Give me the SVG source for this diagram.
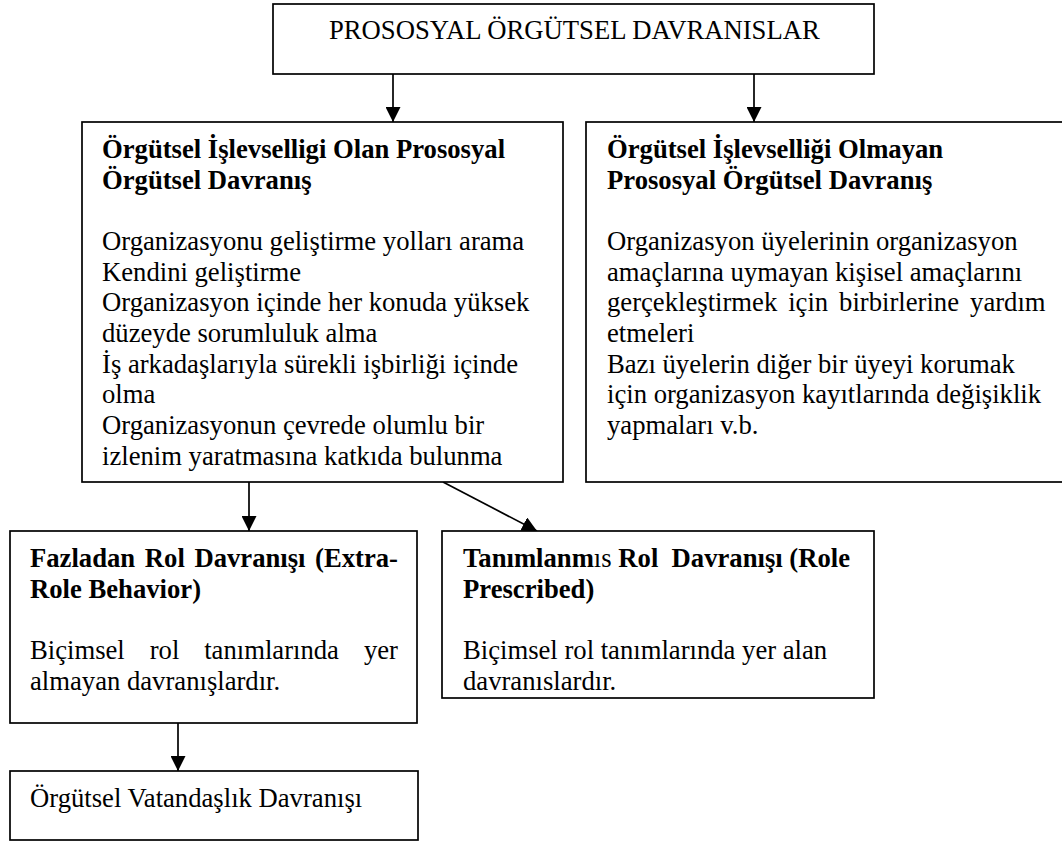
<svg xmlns="http://www.w3.org/2000/svg" width="1062" height="843" viewBox="0 0 1062 843">
<style>
  .box { fill: #ffffff; stroke: #000000; stroke-width: 1.7; }
  .t { font-family: "Liberation Serif", "Times New Roman", serif; font-size: 26.67px; fill: #000000; }
  .b { font-weight: bold; }
  .n { font-weight: normal; }
  .conn { stroke: #000000; stroke-width: 1.7; fill: none; marker-end: url(#ah); }
</style>
<defs>
  <marker id="ah" markerUnits="userSpaceOnUse" markerWidth="15" markerHeight="15" viewBox="0 0 15 15" refX="15" refY="7.5" orient="auto">
    <path d="M0,0 L15,7.5 L0,15 z" fill="#000000"/>
  </marker>
</defs>
<rect x="0" y="0" width="1062" height="843" fill="#ffffff"/>

<g id="connectors">
  <path class="conn" d="M393,74 L393,122"/>
  <path class="conn" d="M754,74 L754,122"/>
  <path class="conn" d="M249,482 L249,531"/>
  <path class="conn" d="M443,482 L537,531"/>
  <path class="conn" d="M178,723 L178,771"/>
</g>

<g id="node-root">
  <rect class="box" x="273" y="4" width="601" height="70"/>
  <text class="t" x="329" y="39">PROSOSYAL ÖRGÜTSEL DAVRANISLAR</text>
</g>

<g id="node-functional">
  <rect class="box" x="82" y="122" width="481" height="360"/>
  <text class="t b" x="102" y="158">Örgütsel İşlevselligi Olan Prososyal</text>
  <text class="t b" x="102" y="188.7">Örgütsel Davranış</text>
  <text class="t" x="102" y="250">Organizasyonu geliştirme yolları arama</text>
  <text class="t" x="102" y="280.7">Kendini geliştirme</text>
  <text class="t" x="102" y="311.3">Organizasyon içinde her konuda yüksek</text>
  <text class="t" x="102" y="342">düzeyde sorumluluk alma</text>
  <text class="t" x="102" y="372.7">İş arkadaşlarıyla sürekli işbirliği içinde</text>
  <text class="t" x="102" y="403.3">olma</text>
  <text class="t" x="102" y="434">Organizasyonun çevrede olumlu bir</text>
  <text class="t" x="102" y="464.7">izlenim yaratmasına katkıda bulunma</text>
</g>

<g id="node-nonfunctional">
  <rect class="box" x="586" y="122" width="480" height="360"/>
  <text class="t b" x="607" y="158">Örgütsel İşlevselliği Olmayan</text>
  <text class="t b" x="607" y="188.7">Prososyal Örgütsel Davranış</text>
  <text class="t" x="607" y="250">Organizasyon üyelerinin organizasyon</text>
  <text class="t" x="607" y="280.7">amaçlarına uymayan kişisel amaçlarını</text>
  <text class="t" y="311.3"><tspan x="607">gerçekleştirmek</tspan><tspan x="788.2">için</tspan><tspan x="839.1">birbirlerine</tspan></text>
  <text class="t" x="1045.6" y="311.3" text-anchor="end">yardım</text>
  <text class="t" x="607" y="342">etmeleri</text>
  <text class="t" x="607" y="372.7">Bazı üyelerin diğer bir üyeyi korumak</text>
  <text class="t" x="607" y="403.3">için organizasyon kayıtlarında değişiklik</text>
  <text class="t" x="607" y="434">yapmaları v.b.</text>
</g>

<g id="node-extrarole">
  <rect class="box" x="10" y="531" width="407" height="192"/>
  <text class="t b" y="567"><tspan x="30">Fazladan</tspan><tspan x="144.8">Rol</tspan><tspan x="194.4">Davranışı</tspan></text>
  <text class="t b" x="398" y="567" text-anchor="end">(Extra-</text>
  <text class="t b" x="30" y="597.7">Role Behavior)</text>
  <text class="t" y="659"><tspan x="30">Biçimsel</tspan><tspan x="149.7">rol</tspan><tspan x="204.2">tanımlarında</tspan></text>
  <text class="t" x="398" y="659" text-anchor="end">yer</text>
  <text class="t" x="30" y="689.7">almayan davranışlardır.</text>
</g>

<g id="node-prescribed">
  <rect class="box" x="442" y="531" width="432" height="167"/>
  <text class="t b" x="463" y="567" xml:space="preserve" style="white-space:pre">Tanımlanm<tspan class="n">ıs</tspan> Rol  Davranışı (Role</text>
  <text class="t b" x="463" y="597.7">Prescribed)</text>
  <text class="t" x="463" y="659">Biçimsel rol tanımlarında yer alan</text>
  <text class="t" x="463" y="689.7">davranıslardır.</text>
</g>

<g id="node-ocb">
  <rect class="box" x="10" y="771" width="408" height="69"/>
  <text class="t" x="30" y="807">Örgütsel Vatandaşlık Davranışı</text>
</g>
</svg>
